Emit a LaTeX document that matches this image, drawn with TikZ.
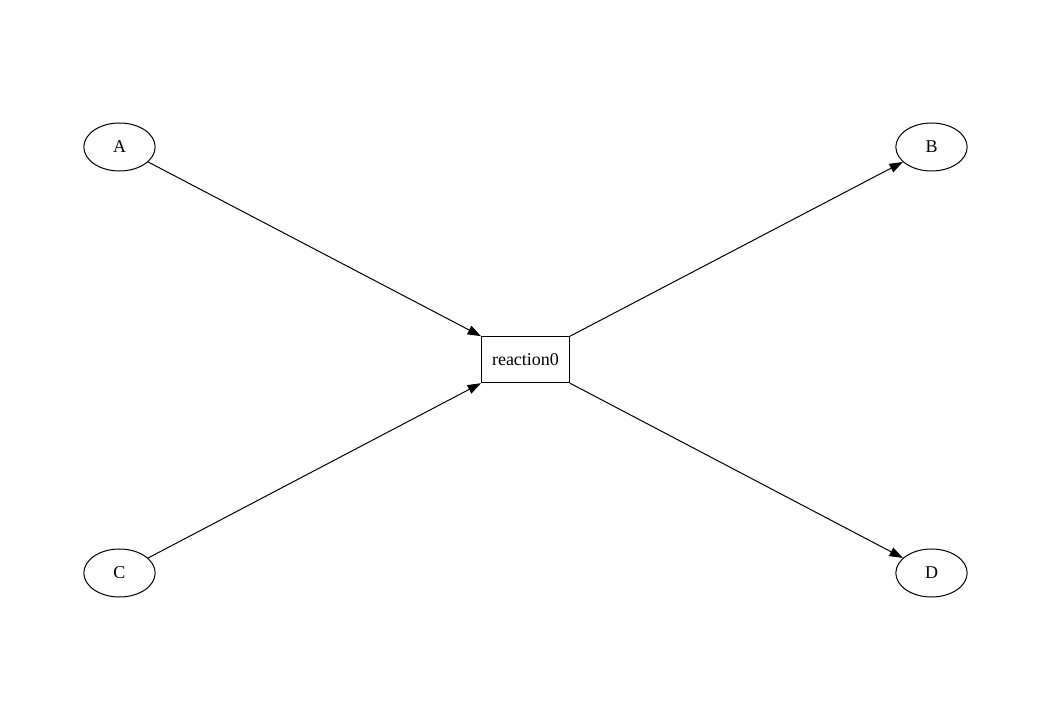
\documentclass[tikz,border=0pt]{standalone}
\usepackage{fontspec}
\setmainfont{Liberation Serif}
\usetikzlibrary{shapes.geometric,arrows.meta}
\begin{document}
\begin{tikzpicture}[x=0.75pt,y=-0.75pt,
  every node/.style={font=\fontsize{13.5}{16}\selectfont},
  species/.style={draw,ellipse,line width=0.75pt,inner sep=0pt,minimum width=53.5pt,minimum height=36pt},
  reactbox/.style={draw,rectangle,line width=0.75pt,inner sep=0pt,minimum width=66pt,minimum height=34.5pt},
  edge/.style={line width=0.75pt,-{Triangle[length=10pt,width=7pt]}},
  plain/.style={line width=0.75pt}]
\useasboundingbox (0,0) rectangle (1051,720);
\node[species] (A) at (119.5,147) {A};
\node[species] (B) at (931.5,147) {B};
\node[species] (C) at (119.5,573) {C};
\node[species] (D) at (931.5,573) {D};
\node[reactbox] (r) at (525.5,359.7) {reaction0};
\draw[edge] (A) -- (r.north west);
\draw[edge] (C) -- (r.south west);
\draw[edge] (r.north east) -- (B);
\draw[edge] (r.south east) -- (D);
\end{tikzpicture}
\end{document}
